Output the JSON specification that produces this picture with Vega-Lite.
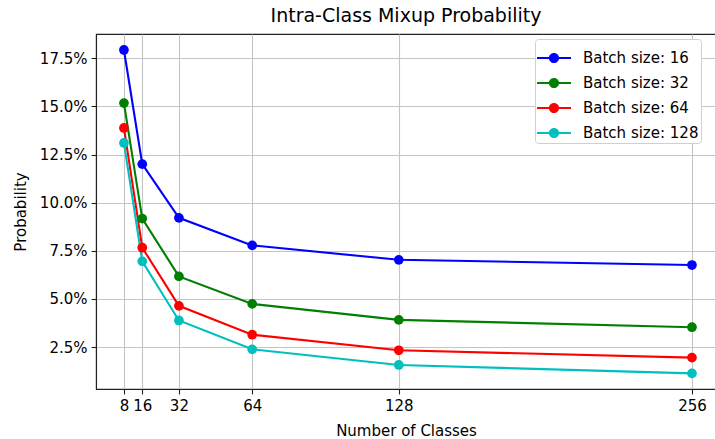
{
  "$schema": "https://vega.github.io/schema/vega-lite/v6.json",
  "autosize": "none",
  "padding": {"left": 96, "top": 34, "right": 0, "bottom": 50},
  "width": 620,
  "height": 355,
  "background": "white",
  "title": {"text": "Intra-Class Mixup Probability", "font": "DejaVu Sans", "fontSize": 19, "fontWeight": "normal", "color": "#000", "anchor": "middle", "offset": 8},
  "config": {
    "view": {"stroke": "#222", "strokeWidth": 1.1},
    "axis": {
      "labelFont": "DejaVu Sans", "labelFontSize": 15, "labelColor": "#000",
      "titleFont": "DejaVu Sans", "titleFontSize": 15, "titleFontWeight": "normal", "titleColor": "#000",
      "domainColor": "#222", "domainWidth": 1.1, "tickColor": "#222", "tickWidth": 1.1, "tickSize": 5, "labelPadding": 4,
      "gridColor": "#c4c4c4", "gridWidth": 1.1
    },
    "legend": {"labelFont": "DejaVu Sans", "labelFontSize": 15, "labelColor": "#000"}
  },
  "data": {"values": [
    {"classes": 8, "batch": "Batch size: 16", "p": 0.1793},
    {"classes": 16, "batch": "Batch size: 16", "p": 0.1200},
    {"classes": 32, "batch": "Batch size: 16", "p": 0.0921},
    {"classes": 64, "batch": "Batch size: 16", "p": 0.0778},
    {"classes": 128, "batch": "Batch size: 16", "p": 0.0703},
    {"classes": 256, "batch": "Batch size: 16", "p": 0.0676},
    {"classes": 8, "batch": "Batch size: 32", "p": 0.1517},
    {"classes": 16, "batch": "Batch size: 32", "p": 0.0917},
    {"classes": 32, "batch": "Batch size: 32", "p": 0.0617},
    {"classes": 64, "batch": "Batch size: 32", "p": 0.0474},
    {"classes": 128, "batch": "Batch size: 32", "p": 0.0391},
    {"classes": 256, "batch": "Batch size: 32", "p": 0.0353},
    {"classes": 8, "batch": "Batch size: 64", "p": 0.1388},
    {"classes": 16, "batch": "Batch size: 64", "p": 0.0766},
    {"classes": 32, "batch": "Batch size: 64", "p": 0.0464},
    {"classes": 64, "batch": "Batch size: 64", "p": 0.0314},
    {"classes": 128, "batch": "Batch size: 64", "p": 0.0233},
    {"classes": 256, "batch": "Batch size: 64", "p": 0.0195},
    {"classes": 8, "batch": "Batch size: 128", "p": 0.1310},
    {"classes": 16, "batch": "Batch size: 128", "p": 0.0695},
    {"classes": 32, "batch": "Batch size: 128", "p": 0.0388},
    {"classes": 64, "batch": "Batch size: 128", "p": 0.0238},
    {"classes": 128, "batch": "Batch size: 128", "p": 0.0157},
    {"classes": 256, "batch": "Batch size: 128", "p": 0.0113}
  ]},
  "encoding": {
    "x": {"field": "classes", "type": "quantitative", "title": "Number of Classes",
      "scale": {"domain": [-4.2, 266.5], "nice": false, "zero": false},
      "axis": {"values": [8, 16, 32, 64, 128, 256], "titlePadding": 10}},
    "y": {"field": "p", "type": "quantitative", "title": "Probability",
      "scale": {"domain": [0.0032, 0.1876], "nice": false, "zero": false},
      "axis": {"values": [0.025, 0.05, 0.075, 0.1, 0.125, 0.15, 0.175], "format": ".1%", "titlePadding": 11}},
    "color": {"field": "batch", "type": "nominal",
      "scale": {"domain": ["Batch size: 16", "Batch size: 32", "Batch size: 64", "Batch size: 128"], "range": ["#0000ff", "#008000", "#ff0000", "#00bfbf"]},
      "legend": {"title": null, "orient": "none", "legendX": 439, "legendY": 5,
        "symbolType": "M-1,-0.065L1,-0.065L1,0.065L-1,0.065Z M0.3,0A0.3,0.3 0 1 1 -0.3,0A0.3,0.3 0 1 1 0.3,0Z",
        "symbolSize": 1156, "symbolStrokeWidth": 0, "symbolOpacity": 1,
        "labelOffset": 12, "rowPadding": 0, "padding": 2,
        "fillColor": "white", "strokeColor": "#d0d0d0", "cornerRadius": 3}
    }
  },
  "layer": [
    {"mark": {"type": "line", "strokeWidth": 2.1}},
    {"mark": {"type": "point", "filled": true, "size": 95, "opacity": 1}}
  ]
}
